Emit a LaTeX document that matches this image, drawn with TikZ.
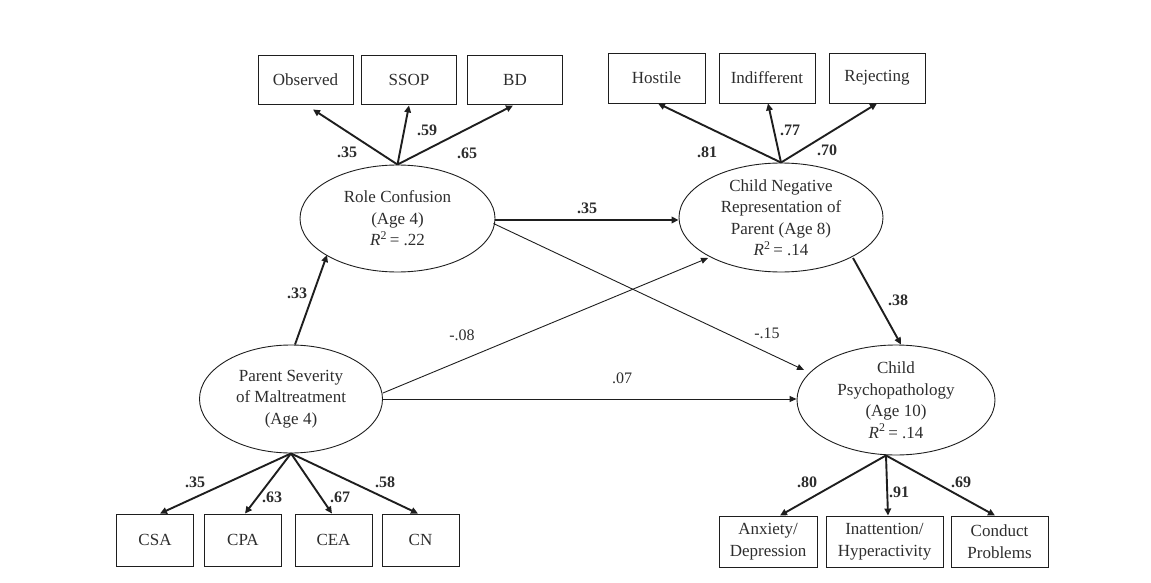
\documentclass[tikz,border=0pt]{standalone}
\usepackage{fontspec}
\setmainfont{Liberation Serif}
\usetikzlibrary{arrows.meta,calc,shapes.geometric}
\definecolor{ink}{RGB}{30,30,30}
\definecolor{tink}{RGB}{45,45,45}
\begin{document}
\begin{tikzpicture}[x=1pt,y=-1pt,
  font=\fontsize{17}{21.5}\selectfont, text=tink, draw=ink,
  obox/.style={draw=ink, line width=0.9pt, minimum width=95pt, minimum height=49pt, inner sep=0pt, align=center},
  sbox/.style={draw=ink, line width=0.9pt, minimum width=77pt, minimum height=52pt, inner sep=0pt, align=center},
  lat/.style={draw=ink, ellipse, line width=0.9pt, inner sep=0pt, align=center},
  sig/.style={draw=ink, line width=1.9pt, -{Triangle[length=7pt,width=6.5pt]}},
  ns/.style={draw=ink, line width=0.9pt, -{Triangle[length=7pt,width=6pt]}},
  blab/.style={font=\fontsize{16}{18}\selectfont\bfseries, inner sep=0pt},
  nlab/.style={font=\fontsize{16}{18}\selectfont, inner sep=0pt}
]
\useasboundingbox (0,0) rectangle (1151,583);

% indicator boxes top
\node[obox] (obs) at (305.5,79.5) {Observed};
\node[obox] (ssop) at (409,79.5) {SSOP};
\node[obox] (bd) at (515,79.5) {BD};
\node[obox, minimum width=97pt, minimum height=50pt] (host) at (656.5,78) {Hostile};
\node[obox, minimum width=96pt, minimum height=50pt] (ind) at (767,78) {Indifferent};
\node[obox, minimum width=96pt, minimum height=50pt] (rej) at (877,78) {Rejecting};

% latent ellipses
\node[lat, minimum width=195pt, minimum height=107pt] (rc) at (397.5,218.5) {Role Confusion\\(Age 4)\\\textit{R}\textsuperscript{2}\,= .22};
\node[lat, minimum width=204pt, minimum height=109pt] (cnr) at (781,217.5) {Child Negative\\Representation of\\Parent (Age 8)\\\textit{R}\textsuperscript{2}\,= .14};
\node[lat, minimum width=183pt, minimum height=108pt] (ps) at (291,399) {Parent Severity\\of Maltreatment\\(Age 4)};
\node[lat, minimum width=198pt, minimum height=110pt] (psy) at (896,400) {Child\\Psychopathology\\(Age 10)\\\textit{R}\textsuperscript{2}\,= .14};

% bottom boxes
\node[sbox] (csa) at (155,540) {CSA};
\node[sbox] (cpa) at (243,540) {CPA};
\node[sbox] (cea) at (333.5,540) {CEA};
\node[sbox] (cn) at (420.5,540) {CN};
\node[sbox, minimum width=98pt, minimum height=51pt] (anx) at (768,541.5) {Anxiety/\\Depression};
\node[sbox, minimum width=117pt, minimum height=51pt] (ina) at (884.5,541.5) {Inattention/\\Hyperactivity};
\node[sbox, minimum width=97pt, minimum height=51pt] (con) at (999.5,541.5) {Conduct\\Problems};

% measurement arrows
\draw[sig] (rc.north) -- ($(obs.south)+(7.5,5)$);
\draw[sig] (rc.north) -- ($(ssop.south)+(0,1)$);
\draw[sig] (rc.north) -- ($(bd.south)+(-2,1)$);
\draw[sig] (cnr.north) -- ($(host.south)+(1.5,0)$);
\draw[sig] (cnr.north) -- ($(ind.south)+(1,0)$);
\draw[sig] (cnr.north) -- ($(rej.south)+(0,0)$);
\draw[sig] (ps.south) -- ($(csa.north)+(5,0)$);
\draw[sig] (ps.south) -- ($(cpa.north)+(2,0)$);
\draw[sig] (ps.south) -- ($(cea.north)+(-1.5,0)$);
\draw[sig] (ps.south) -- ($(cn.north)+(-2.5,0)$);
\draw[sig] ($(psy.south)+(-10,0)$) -- ($(anx.north)+(12,0)$);
\draw[sig] ($(psy.south)+(-10,0)$) -- ($(ina.north)+(3.5,0)$);
\draw[sig] ($(psy.south)+(-10,0)$) -- ($(con.north)+(-4.5,0)$);

% structural paths
\draw[sig] ($(ps.north)+(4,0)$) -- ($(rc.center)+(-70.5,36.5)$);
\draw[sig] ($(rc.east)+(0,1.5)$) -- ($(cnr.west)+(0,2.5)$);
\draw[sig] ($(cnr.center)+(72,40.5)$) -- ($(psy.north)+(5,0)$);
\draw[ns] ($(rc.east)+(-2,5)$) -- ($(psy.center)+(-92,-30)$);
\draw[ns] ($(ps.east)+(0,-6)$) -- ($(cnr.center)+(-73,40.5)$);
\draw[ns] (ps.east) -- (ps.east -| psy.west);

% labels
\node[blab] (l1) at (347,152) {.35};
\node[blab] (l2) at (427,130) {.59};
\node[blab] (l3) at (467,153) {.65};
\node[blab] (l4) at (707,152) {.81};
\node[blab] (l5) at (790,130) {.77};
\node[blab] (l6) at (827,150) {.70};
\node[blab] (l7) at (587,208) {.35};
\node[blab] (l8) at (297,293) {.33};
\node[blab] (l9) at (898,300) {.38};
\node[blab] (l10) at (195,482) {.35};
\node[blab] (l11) at (272,497) {.63};
\node[blab] (l12) at (340,497) {.67};
\node[blab] (l13) at (385,482) {.58};
\node[blab] (l14) at (807,482) {.80};
\node[blab] (l15) at (899,492) {.91};
\node[blab] (l16) at (961,482) {.69};
\node[nlab] (l17) at (767,333) {-.15};
\node[nlab] (l18) at (462,335) {-.08};
\node[nlab] (l19) at (622,378) {.07};
\end{tikzpicture}
\end{document}
